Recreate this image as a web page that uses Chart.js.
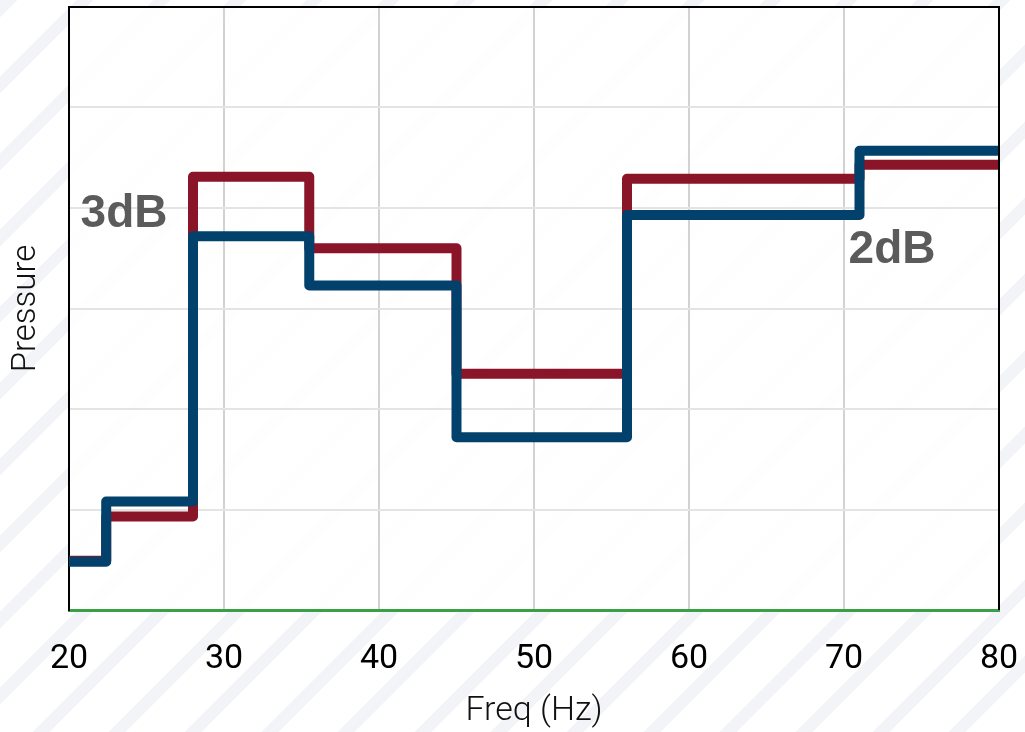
<!DOCTYPE html>
<html>
<head>
<meta charset="utf-8">
<script src="https://cdn.jsdelivr.net/npm/chart.js@4/dist/chart.umd.min.js"></script>
<style>
  html, body { margin: 0; padding: 0; }
  body {
    width: 1025px; height: 732px; overflow: hidden;
    background: #fff repeating-linear-gradient(-45deg, #fff 0px, #fff 42px, #f3f4f7 42px, #f3f4f7 54px);
  }
  #wrap { width: 1025px; height: 732px; }
</style>
</head>
<body>
<div id="wrap"><canvas id="myChart" width="1025" height="732"></canvas></div>
<script>
(function () {

    // band edges (Hz) and levels held from each edge to the next
    const freqEdges = [20, 22.4, 28, 35.5, 45, 56, 71, 80];
    const blueLevels = [0.48, 1.08, 3.72, 3.23, 1.72, 3.93, 4.57, 4.57];
    const redLevels = [0.49, 0.93, 4.31, 3.6, 2.35, 4.29, 4.43, 4.43];
    const xTicks = [20, 30, 40, 50, 60, 70, 80];

    // text notes: label, freq, level
    const notes = [
        { text: '3dB', x: 23.55, y: 3.94 },
        { text: '2dB', x: 73.1, y: 3.58 }
    ];

    const toPoints = (levels) => freqEdges.map((f, i) => ({ x: f, y: levels[i] }));

    // white plot area + frame on top/right
    const framePlugin = {
        id: 'frame',
        beforeDraw(chart) {
            const { ctx, chartArea: a } = chart;
            ctx.save();
            ctx.fillStyle = 'rgba(255,255,255,0.88)';
            ctx.fillRect(a.left, a.top, a.right - a.left, a.bottom - a.top);
            ctx.restore();
        },
        afterDraw(chart) {
            const { ctx, chartArea: a } = chart;
            ctx.save();
            ctx.strokeStyle = '#000';
            ctx.lineWidth = 2;
            ctx.beginPath();
            ctx.moveTo(a.left, a.top);
            ctx.lineTo(a.right, a.top);
            ctx.lineTo(a.right, a.bottom);
            ctx.stroke();
            // notes
            ctx.fillStyle = '#5b5b5b';
            ctx.font = 'bold 46px "Liberation Sans", Arial, sans-serif';
            ctx.textAlign = 'center';
            ctx.textBaseline = 'middle';
            notes.forEach(n => {
                ctx.fillText(n.text, chart.scales.x.getPixelForValue(n.x), chart.scales.y.getPixelForValue(n.y));
            });
            ctx.restore();
        }
    };

    const ctx = document.getElementById('myChart').getContext('2d');
    const myChart = new Chart(ctx, {
        type: 'line',
        data: {
            datasets: [{
                label: 'red',
                data: toPoints(redLevels),
                borderColor: '#8b1528',
                borderWidth: 10,
                stepped: 'before',
                pointRadius: 0,
                borderJoinStyle: 'round',
                borderCapStyle: 'butt',
                order: 2
            }, {
                label: 'blue',
                data: toPoints(blueLevels),
                borderColor: '#02416b',
                borderWidth: 10,
                stepped: 'before',
                pointRadius: 0,
                borderJoinStyle: 'round',
                borderCapStyle: 'butt',
                order: 1
            }]
        },
        options: {
            responsive: false,
            animation: false,
            layout: { padding: { top: 7, right: 26, left: 0, bottom: 0 } },
            plugins: { legend: { display: false }, tooltip: { enabled: false } },
            scales: {
                x: {
                    type: 'linear',
                    min: 20,
                    max: 80,
                    afterBuildTicks: (axis) => { axis.ticks = xTicks.map(v => ({ value: v })); },
                    afterFit: (axis) => {
                        axis.height = 122;
                        axis.paddingLeft = 0;
                        axis.paddingRight = 0;
                    },
                    grid: { color: '#d2d2d2', lineWidth: 2, drawTicks: false },
                    border: { color: '#3aa045', width: 3 },
                    ticks: {
                        color: '#000',
                        padding: 29,
                        font: { family: 'Roboto', size: 34 },
                        maxRotation: 0
                    },
                    title: {
                        display: true,
                        text: 'Freq (Hz)',
                        color: '#111',
                        font: { family: 'Roboto', size: 34, weight: 300 },
                        padding: { top: 0, bottom: 0 }
                    }
                },
                y: {
                    min: 0,
                    max: 6,
                    afterFit: (axis) => { axis.width = 69; },
                    grid: { color: '#e4e4e4', lineWidth: 2, drawTicks: false },
                    border: { color: '#000', width: 2 },
                    ticks: { display: false, stepSize: 1 },
                    title: {
                        display: true,
                        text: 'Pressure',
                        color: '#111',
                        font: { family: 'Roboto', size: 33, weight: 300 },
                        padding: { top: 7, bottom: 0 }
                    }
                }
            }
        },
        plugins: [framePlugin]
    });

})();
</script>
</body>
</html>
